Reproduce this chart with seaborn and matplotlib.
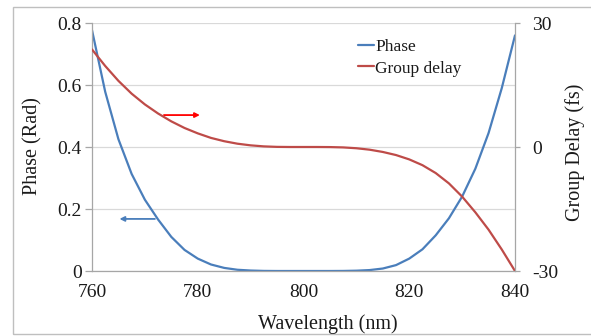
import matplotlib
matplotlib.use("Agg")
import matplotlib.pyplot as plt
import numpy as np
import pandas as pd
import seaborn as sns
from matplotlib.patches import Rectangle
from matplotlib.lines import Line2D

# ---- data ----
wavelength = [760, 762.5, 765, 767.5, 770, 772.5, 775, 777.5, 780, 782.5, 785, 787.5,
              790, 792.5, 795, 797.5, 800, 802.5, 805, 807.5, 810, 812.5, 815, 817.5,
              820, 822.5, 825, 827.5, 830, 832.5, 835, 837.5, 840]
phase = [0.777, 0.578, 0.425, 0.313, 0.230, 0.166, 0.110, 0.068, 0.040, 0.021, 0.010, 0.004,
         0.0015, 0.0003, 0.0, 0.0, 0.0, 0.0, 0.0, 0.0002, 0.001, 0.003, 0.008, 0.019,
         0.040, 0.070, 0.115, 0.170, 0.240, 0.330, 0.445, 0.590, 0.760]
group_delay = [23.6, 19.6, 16.0, 12.9, 10.3, 8.1, 6.2, 4.6, 3.3, 2.2, 1.4, 0.8,
               0.4, 0.15, 0.03, 0.0, 0.0, 0.0, -0.02, -0.1, -0.3, -0.65, -1.2, -1.95,
               -3.0, -4.4, -6.3, -8.8, -12.0, -15.8, -20.0, -24.8, -30.0]
x_ticks = [760, 780, 800, 820, 840]
y_ticks = [0, 0.2, 0.4, 0.6, 0.8]
y_tick_labels = ["0", "0.2", "0.4", "0.6", "0.8"]
y2_ticks = [-30, 0, 30]
y2_tick_labels = ["-30", "0", "30"]
series_labels = ["Phase", "Group delay"]

df = pd.DataFrame({"Wavelength": wavelength, "Phase": phase, "Group delay": group_delay})

sns.set_style("white")
plt.rcParams['font.family'] = ['Liberation Serif', 'DejaVu Serif']

BLUE = "#4A7EBB"
RED = "#BE4B48"
GRAY = "#A6A6A6"
TXT = "#1a1a1a"
W, H = 591, 336

fig = plt.figure(figsize=(W/100, H/100), dpi=100)
ax = fig.add_axes([92/W, 1-271/H, (515-92)/W, (271-23)/H])
ax2 = ax.twinx()

sns.lineplot(data=df, x="Wavelength", y="Phase", ax=ax, color=BLUE, lw=1.6, legend=False)
sns.lineplot(data=df, x="Wavelength", y="Group delay", ax=ax2, color=RED, lw=1.6, legend=False)

ax.set_xlim(760, 840)
ax.set_ylim(0, 0.8)
ax2.set_ylim(-30, 30)
ax.set_xticks(x_ticks)
ax.set_xticklabels([str(t) for t in x_ticks])
ax.set_yticks(y_ticks)
ax.set_yticklabels(y_tick_labels)
ax2.set_yticks(y2_ticks)
ax2.set_yticklabels(y2_tick_labels)

ax.grid(axis="y", color="#D9D9D9", lw=0.9)
ax.grid(axis="x", visible=False)
ax.set_axisbelow(True)

for s in ["top", "right"]:
    ax.spines[s].set_visible(False)
for s in ["top", "left", "bottom"]:
    ax2.spines[s].set_visible(False)
ax.spines["left"].set_color(GRAY)
ax.spines["bottom"].set_color(GRAY)
ax2.spines["right"].set_color(GRAY)
for sp in [ax.spines["left"], ax.spines["bottom"], ax2.spines["right"]]:
    sp.set_linewidth(0.9)

ax.tick_params(axis="x", direction="out", length=4.5, width=0.9, color=GRAY,
               labelsize=14, labelcolor=TXT, pad=5)
ax.tick_params(axis="y", direction="out", length=5, width=0.9, color=GRAY,
               labelsize=14, labelcolor=TXT, pad=2.5)
ax2.tick_params(axis="y", direction="out", length=3.6, width=0.9, color=GRAY,
                labelsize=14, labelcolor=TXT, pad=8.5)
ax.set_xlabel("")
ax.set_ylabel("")
ax2.set_ylabel("")

fig.text(328/W, 1-324/H, "Wavelength (nm)", fontsize=14.5, color=TXT,
         ha="center", va="center")
fig.text(33/W, 1-146/H, "Phase (Rad)", fontsize=14.5, color=TXT, rotation=90,
         ha="center", va="center")
fig.text(575/W, 1-152/H, "Group Delay (fs)", fontsize=14.5, color=TXT, rotation=90,
         ha="center", va="center")

# arrows indicating which axis each curve belongs to
ax.annotate("", xy=(780.4, 0.503), xytext=(773.6, 0.503),
            arrowprops=dict(arrowstyle="-|>", color="red", lw=1.3, mutation_scale=7,
                            shrinkA=0, shrinkB=0))
ax.annotate("", xy=(765.2, 0.168), xytext=(771.9, 0.168),
            arrowprops=dict(arrowstyle="-|>", color=BLUE, lw=1.3, mutation_scale=7,
                            shrinkA=0, shrinkB=0))

handles = [Line2D([], [], color=BLUE, lw=1.6), Line2D([], [], color=RED, lw=1.6)]
fig.legend(handles, series_labels, loc="upper left", bbox_to_anchor=(358/W, 1-39/H),
           frameon=False, fontsize=12.5, handlelength=0.9, handletextpad=0.1,
           borderpad=0, borderaxespad=0, labelspacing=0.3, labelcolor=TXT)

fig.patches.append(Rectangle((13/W, 2/H), 1.0, 1-9/H, transform=fig.transFigure,
                             fill=False, edgecolor="#BFBFBF", lw=1.0))

fig.savefig("out.png", dpi=100)
